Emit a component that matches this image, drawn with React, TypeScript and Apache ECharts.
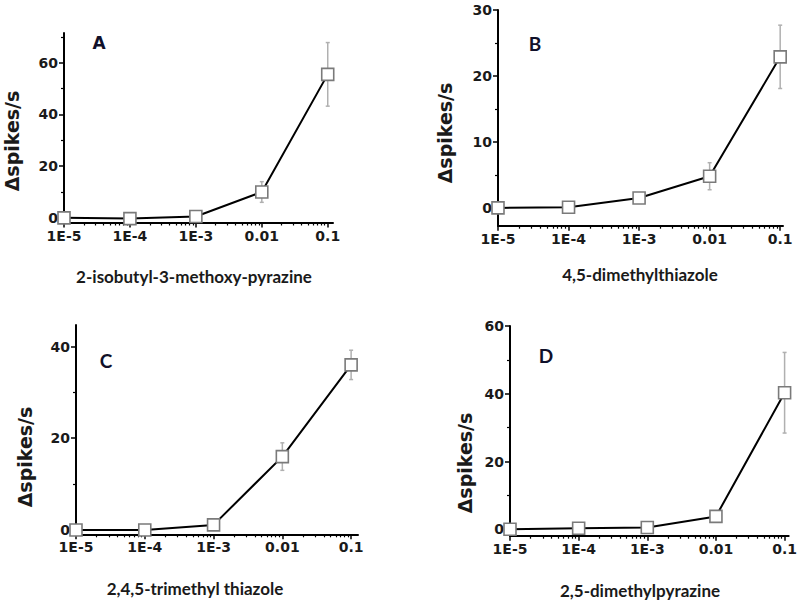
import React, { useEffect, useRef } from "react";
import * as echarts from "echarts";

// ---- data ----
const CONC = [1e-5, 1e-4, 1e-3, 0.01, 0.1];
const X_TICK_LABELS = ["1E-5", "1E-4", "1E-3", "0.01", "0.1"];

const A_MEAN = [0, -0.3, 0.5, 10, 55.5];
const A_SEM = [0, 0, 0, 4, 12.3];
const B_MEAN = [0, 0.1, 1.5, 4.8, 22.9];
const B_SEM = [0, 0, 0, 2.05, 4.8];
const C_MEAN = [0, 0, 1.1, 16, 36];
const C_SEM = [0, 0, 0, 3, 3.2];
const D_MEAN = [0, 0.3, 0.5, 3.8, 40.3];
const D_SEM = [0, 0, 0, 0, 11.9];

const LETTERS = ["A", "B", "C", "D"];
const COMPOUNDS = [
  "2-isobutyl-3-methoxy-pyrazine",
  "4,5-dimethylthiazole",
  "2,4,5-trimethyl thiazole",
  "2,5-dimethylpyrazine",
];
const Y_NAME = "Δspikes/s";

// ---- layout / axis settings ----
const PANELS = [
  { mean: A_MEAN, sem: A_SEM, left: 64, top: 33, right: 333, bottom: 222.5, yMin: -1.8, yMax: 71.5, labelStep: 20, tickStep: 10, xMax: -0.92,
    yName: [12, 141], xName: [194, 276], letter: [99, 43] },
  { mean: B_MEAN, sem: B_SEM, left: 498, top: 10, right: 783, bottom: 225.7, yMin: -2.7, yMax: 30, labelStep: 10, tickStep: 5, xMax: -0.96,
    yName: [445, 133], xName: [640, 274], letter: [535, 43] },
  { mean: C_MEAN, sem: C_SEM, left: 76, top: 325, right: 358, bottom: 534.3, yMin: -0.95, yMax: 44.7, labelStep: 20, tickStep: 10, xMax: -0.9,
    yName: [25, 457], xName: [195, 588], letter: [106, 360] },
  { mean: D_MEAN, sem: D_SEM, left: 510, top: 326, right: 793, bottom: 535.7, yMin: -1.9, yMax: 60, labelStep: 20, tickStep: 10, xMax: -0.94,
    yName: [465, 463], xName: [640, 590], letter: [546, 355] },
];

const range = (a: number, b: number, s: number) => {
  const out: number[] = [];
  for (let v = a; v <= b + 1e-9; v += s) out.push(Math.round(v * 1000) / 1000);
  return out;
};

const LOG_X = CONC.map((c) => Math.log10(c));
const MINOR_X: number[] = [];
for (let d = -5; d <= -1; d++) {
  for (let k = 2; k <= 9; k++) MINOR_X.push(d + Math.log10(k));
}

const AXIS_FONT = "'DejaVu Sans', sans-serif";
const NAME_FONT = "Lato, 'Open Sans', sans-serif";

export default function App() {
  const ref = useRef<HTMLDivElement>(null);
  useEffect(() => {
    document.body.style.margin = "0";
    if (!ref.current) return;
    const chart = echarts.init(ref.current, null, { renderer: "svg" });

    const grid: any[] = [];
    const xAxis: any[] = [];
    const yAxis: any[] = [];
    const series: any[] = [];
    const graphic: any[] = [];

    PANELS.forEach((p, i) => {
      grid.push({ left: p.left, top: p.top, width: p.right - p.left, height: p.bottom - p.top, containLabel: false });
      const minorXs = MINOR_X.filter((v) => v <= p.xMax);
      xAxis.push({
        type: "value", gridIndex: i, position: "bottom", min: -5, max: p.xMax,
        splitLine: { show: false },
        axisLine: { onZero: false, lineStyle: { color: "#000", width: 2 } },
        axisTick: { customValues: [-5, -4, -3, -2, -1], length: 5, inside: false, lineStyle: { color: "#000", width: 1.5 } },
        axisLabel: {
          customValues: [-5, -4, -3, -2, -1], margin: 6,
          formatter: (v: number) => X_TICK_LABELS[Math.round(v) + 5] ?? "",
          color: "#1a1a1a", fontFamily: AXIS_FONT, fontWeight: "bold", fontSize: 14,
        },
      });
      xAxis.push({
        type: "value", gridIndex: i, position: "bottom", min: -5, max: p.xMax,
        splitLine: { show: false },
        axisLine: { show: false, onZero: false },
        axisTick: { customValues: minorXs, length: 3, lineStyle: { color: "#000", width: 1.2 } },
        axisLabel: { show: false },
      });
      const labels = range(0, p.yMax, p.labelStep);
      const minors = range(0, p.yMax, p.tickStep).filter((v) => !labels.includes(v));
      yAxis.push({
        type: "value", gridIndex: i, position: "left", min: p.yMin, max: p.yMax,
        splitLine: { show: false },
        axisLine: { onZero: false, lineStyle: { color: "#000", width: 2 } },
        axisTick: { customValues: labels, length: 5, lineStyle: { color: "#000", width: 1.5 } },
        axisLabel: {
          customValues: labels, margin: 6,
          color: "#1a1a1a", fontFamily: AXIS_FONT, fontWeight: "bold", fontSize: 14,
        },
      });
      yAxis.push({
        type: "value", gridIndex: i, position: "left", min: p.yMin, max: p.yMax,
        splitLine: { show: false },
        axisLine: { show: false, onZero: false },
        axisTick: { customValues: minors, length: 3, lineStyle: { color: "#000", width: 1.2 } },
        axisLabel: { show: false },
      });

      const errData = LOG_X.map((x, j) => [x, p.mean[j] - p.sem[j], p.mean[j] + p.sem[j]]).filter((d, j) => p.sem[j] > 0);
      series.push({
        type: "custom",
        xAxisIndex: 2 * i, yAxisIndex: 2 * i,
        data: errData,
        z: 1,
        renderItem: (params: any, api: any) => {
          const x = api.value(0);
          const top = api.coord([x, api.value(2)]);
          const bot = api.coord([x, api.value(1)]);
          const st = { stroke: "#b0b0b0", lineWidth: 1.5 };
          return {
            type: "group",
            children: [
              { type: "line", shape: { x1: top[0], y1: top[1], x2: bot[0], y2: bot[1] }, style: st },
              { type: "line", shape: { x1: top[0] - 2, y1: top[1], x2: top[0] + 2, y2: top[1] }, style: st },
              { type: "line", shape: { x1: bot[0] - 2, y1: bot[1], x2: bot[0] + 2, y2: bot[1] }, style: st },
            ],
          };
        },
      });
      series.push({
        type: "line",
        xAxisIndex: 2 * i, yAxisIndex: 2 * i,
        data: LOG_X.map((x, j) => [x, p.mean[j]]),
        z: 3,
        clip: false,
        symbol: "rect",
        symbolSize: 12,
        itemStyle: { color: "#ffffff", borderColor: "#7a7a7a", borderWidth: 1.6 },
        lineStyle: { color: "#000", width: 2 },
      });

      graphic.push({
        type: "text", x: p.yName[0], y: p.yName[1], rotation: Math.PI / 2,
        style: { text: Y_NAME, align: "center", verticalAlign: "middle", font: `bold 19px ${AXIS_FONT}`, fill: "#1a1a1a" },
      });
      graphic.push({
        type: "text", x: p.xName[0], y: p.xName[1],
        style: { text: COMPOUNDS[i], align: "center", verticalAlign: "middle", font: `bold 17px ${NAME_FONT}`, fill: "#1a1a1a" },
      });
      graphic.push({
        type: "text", x: p.letter[0], y: p.letter[1],
        style: {
          text: LETTERS[i], align: "center", verticalAlign: "middle",
          font: i === 0 ? `bold 17px ${AXIS_FONT}` : `bold 19px ${NAME_FONT}`, fill: "#10102a",
        },
      });
    });

    chart.setOption({
      animation: false,
      backgroundColor: "#ffffff",
      grid, xAxis, yAxis, series, graphic,
    });
    return () => chart.dispose();
  }, []);
  return <div ref={ref} style={{ width: 800, height: 604 }} />;
}
